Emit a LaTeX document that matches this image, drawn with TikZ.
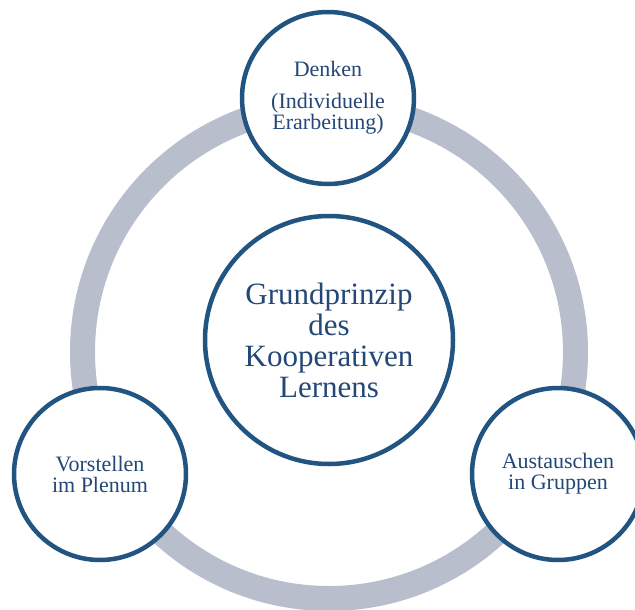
\documentclass[tikz,border=0pt]{standalone}
\usepackage{fontspec}
\setmainfont{Liberation Serif}
\definecolor{ringgray}{RGB}{184,190,203}
\definecolor{deepblue}{RGB}{34,84,130}
\definecolor{textblue}{RGB}{35,72,120}
\begin{document}
\begin{tikzpicture}[x=1pt,y=-1pt,
  bubble/.style={circle, draw=deepblue, line width=4.5pt, fill=white,
    minimum size=172pt, inner sep=0pt, align=center, text=textblue,
    font=\fontsize{22}{21}\selectfont},
  hub/.style={bubble, minimum size=248pt, font=\fontsize{31}{31}\selectfont}]
\useasboundingbox (0,0) rectangle (635,610);
% cycle ring behind the stations
\coordinate (ringcentre) at (329,352);
\draw[ringgray, line width=25pt] (ringcentre) circle [radius=246.5pt];
% centre
\node[hub] (core) at (329,340) {Grundprinzip\\des\\Kooperativen\\Lernens};
% the three phases
\node[bubble] (denken) at (328,98) {Denken\\[11pt](Individuelle\\Erarbeitung)};
\node[bubble] (plenum) at (100,474) {Vorstellen\\im Plenum};
\node[bubble] (gruppen) at (558,474) {Austauschen\\in Gruppen};
\end{tikzpicture}
\end{document}
